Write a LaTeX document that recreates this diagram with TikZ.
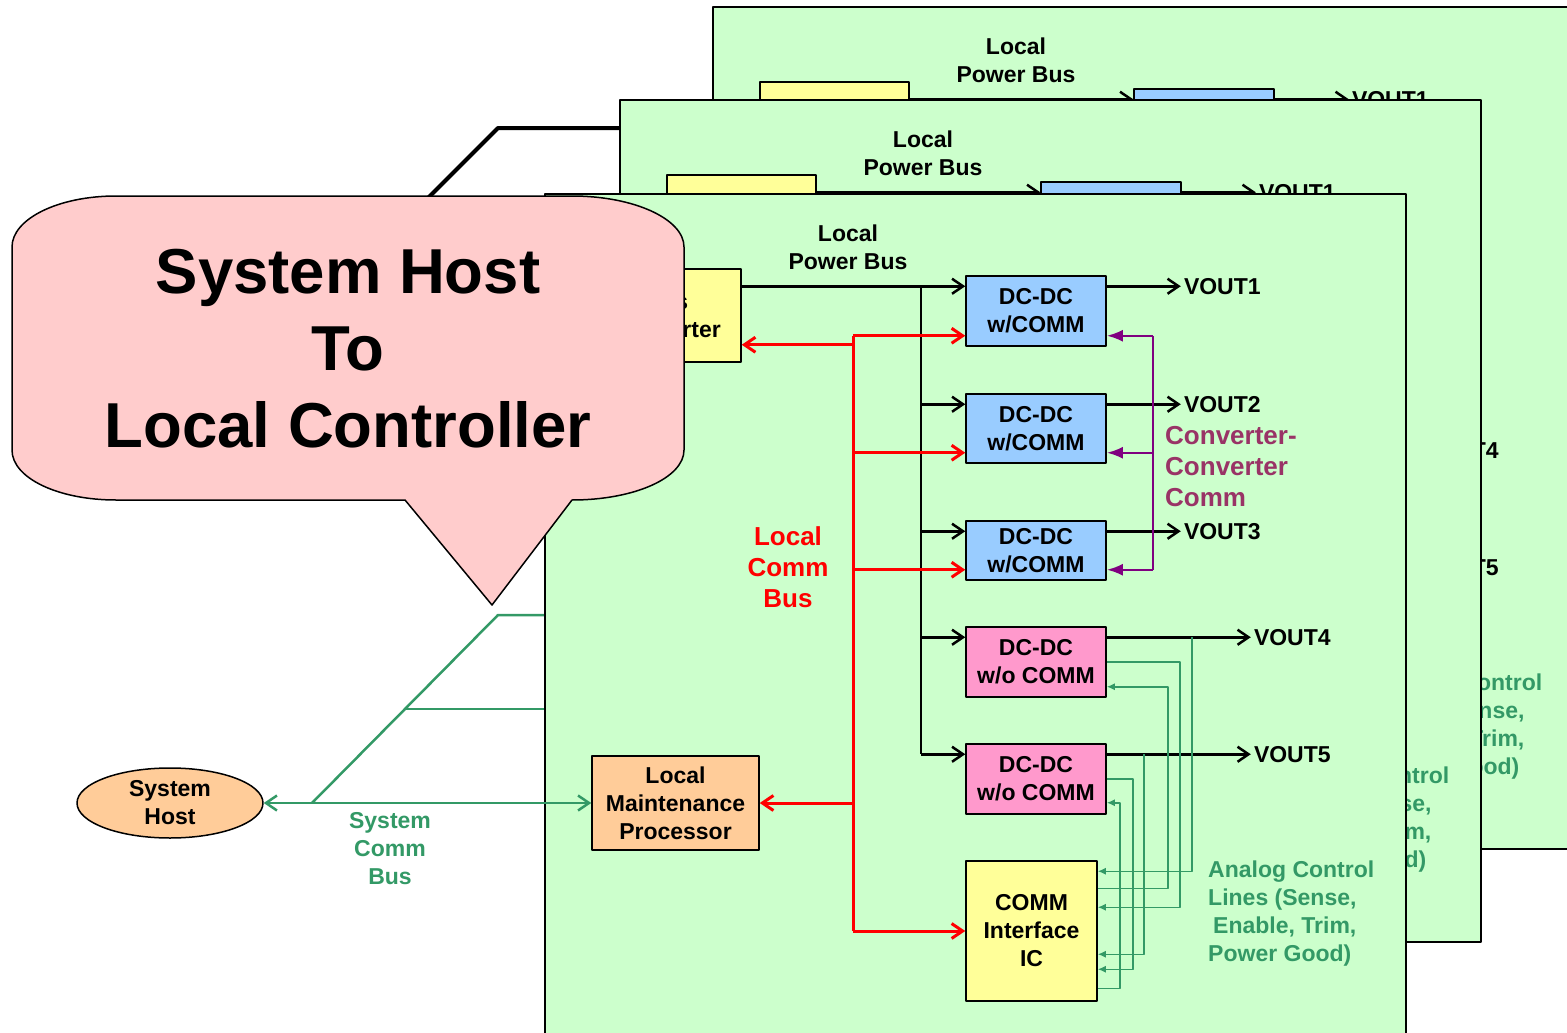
\documentclass[tikz,border=0pt]{standalone}
\usepackage{fontspec}
\setmainfont{Liberation Sans}
\usetikzlibrary{arrows.meta,shapes.geometric}

\definecolor{boardgreen}{HTML}{CCFFCC}
\definecolor{dcblue}{HTML}{99CCFF}
\definecolor{dcpink}{HTML}{FF99CC}
\definecolor{convyellow}{HTML}{FFFF99}
\definecolor{lmporange}{HTML}{FFCC99}
\definecolor{calloutpink}{HTML}{FFCCCC}
\definecolor{c2cline}{HTML}{800080}
\definecolor{c2ctext}{HTML}{993366}
\definecolor{sysgreen}{HTML}{339966}

\newcommand\boxfont{\bfseries\fontsize{23}{28}\selectfont}
\newcommand\midfont{\bfseries\fontsize{26}{31}\selectfont}
\newcommand\hugefont{\bfseries\fontsize{63.5}{77}\selectfont}

% one power card; drawn three times
\newcommand\drawboard{%
  \node[board] (brd) at (975.5,615) {};
  \node[box,fill=convyellow,minimum width=149,minimum height=93] (bc) at (666.5,315.5) {Bus\\Converter};
  \node[box,fill=dcblue,minimum width=140,minimum height=70] (dc1) at (1036,311) {DC-DC\\w/COMM};
  \node[box,fill=dcblue,minimum width=140,minimum height=69] (dc2) at (1036,428.5) {DC-DC\\w/COMM};
  \node[box,fill=dcblue,minimum width=140,minimum height=59] (dc3) at (1036,550.5) {DC-DC\\w/COMM};
  \node[box,fill=dcpink,minimum width=140,minimum height=70] (dc4) at (1036,662) {DC-DC\\w/o COMM};
  \node[box,fill=dcpink,minimum width=140,minimum height=70] (dc5) at (1036,779) {DC-DC\\w/o COMM};
  \node[box,fill=convyellow,minimum width=131,minimum height=140] (ic) at (1031.5,931) {COMM\\Interface\\IC};
  \node[box,fill=lmporange,minimum width=167,minimum height=94] (lmp) at (675.5,803) {Local\\Maintenance\\Processor};
  \node[label,align=center] (pbl) at (848,247) {Local\\Power Bus};
  \node[label,font=\midfont,text=red,align=center] (lcb) at (788,567) {Local\\Comm\\Bus};
  \node[label,font=\midfont,text=c2ctext,anchor=west,align=left] (ccc) at (1165,467) {Converter-\\Converter\\Comm};
  \node[label,text=sysgreen,anchor=west,align=left] (acl) at (1208,914) {Analog Control\\Lines (Sense,\\\hspace*{5pt}Enable, Trim,\\Power Good)};
  \foreach \d in {1,...,5} {
    \coordinate (in\d) at ([yshift=-11pt]dc\d.north west);
    \coordinate (out\d) at ([yshift=-11pt]dc\d.north east);
  }
  \foreach \d in {1,2,3} {
    \coordinate (cin\d) at ([yshift=11pt]dc\d.south west);
    \coordinate (pin\d) at ([yshift=11pt]dc\d.south east);
  }
  \coordinate (ptop) at (921,288);
  \coordinate (ctop) at (853,335);
  \coordinate (ktop) at (1153,335);
  \coordinate (bcin) at ([yshift=18pt]bc.south east);
  \draw[pwr,-opn] (bc.east |- in1) -- (in1);
  \draw[pwr] (ptop |- in1) -- (ptop |- in5);
  \foreach \d in {2,...,5} \draw[pwr,-opn] (ptop |- in\d) -- (in\d);
  \foreach \d/\l in {1/74,2/74,3/74,4/144,5/144}
    \draw[pwr,-opn] (out\d) -- ++(\l,0) node[label,anchor=west,inner sep=2pt] (v\d) {VOUT\d};
  \draw[comm] (ctop |- cin1) -- (ctop |- ic.west);
  \foreach \d in {1,2,3} \draw[comm,-opn] (ctop |- cin\d) -- (cin\d);
  \draw[comm,-opn] (ctop |- bcin) -- (bcin);
  \draw[comm,-opn] (ctop |- lmp.east) -- (lmp.east);
  \draw[comm,-opn] (ctop |- ic.west) -- (ic.west);
  \draw[c2c] (ktop |- pin1) -- (ktop |- pin3);
  \foreach \d in {1,2,3} \draw[c2c,-fil] (ktop |- pin\d) -- (pin\d);
  \draw[ana,-sml] ([xshift=85pt]out4) |- ([yshift=-11pt]ic.north east);
  \draw[ana,-sml] (dc4.east) -- ++(73,0) |- ([yshift=-47pt]ic.north east);
  \draw[ana,-sml] ([yshift=-28pt]ic.north east) -- ++(70,0) |- ([yshift=11pt]dc4.south east);
  \draw[ana,-sml] ([xshift=37pt]out5) |- ([yshift=-94pt]ic.north east);
  \draw[ana,-sml] (dc5.east) -- ++(26,0) |- ([yshift=-109pt]ic.north east);
  \draw[ana,-sml] ([yshift=-128pt]ic.north east) -- ++(22,0) |- ([yshift=12pt]dc5.south east);
}

\begin{document}
\begin{tikzpicture}[x=1pt,y=-1pt,line join=round,
    opn/.tip={Straight Barb[length=11pt,width=15pt]},
    fil/.tip={Latex[length=16pt,width=12pt]},
    sml/.tip={Latex[length=8pt,width=7pt]},
    board/.style={draw,line width=2.5pt,fill=boardgreen,inner sep=0pt,minimum width=861,minimum height=842},
    box/.style={draw,line width=1.5pt,inner sep=0pt,align=center,font=\boxfont},
    label/.style={inner sep=0pt,font=\boxfont},
    pwr/.style={line width=2.5pt},
    comm/.style={line width=3pt,red},
    c2c/.style={line width=2.5pt,c2cline},
    ana/.style={line width=1.5pt,sysgreen},
    sys/.style={line width=2.5pt,sysgreen},
    hostline/.style={line width=4pt}]
  \useasboundingbox (0,0) rectangle (1567,1033);
  \clip (0,0) rectangle (1567,1033);
  \begin{scope}[shift={(168,-187)},name prefix=bk-]
    \drawboard
  \end{scope}
  \begin{scope}[shift={(75,-94)},name prefix=md-]
    \drawboard
  \end{scope}
  \coordinate (hk) at (498,128);
  \draw[hostline] (420,206) -- (hk) -- (hk -| md-brd.west);
  \begin{scope}[name prefix=fr-]
    \drawboard
  \end{scope}
  % system comm bus
  \node[ellipse,draw,line width=1.5pt,fill=lmporange,inner sep=0pt,minimum width=186,minimum height=70,
    align=center,font=\boxfont] (host) at (170,803) {System\\Host};
  \coordinate (sb0) at (312,803);
  \coordinate (sb1) at (405,709);
  \coordinate (sb2) at (498,615);
  \draw[sys,opn-opn] (host.east) -- (fr-lmp.west);
  \draw[sys] (sb0) -- (sb1) -- (sb2) -- (sb2 -| fr-brd.west);
  \draw[sys] (sb1) -- (sb1 -| fr-brd.west);
  \node[label,text=sysgreen,align=center] (scb) at (390,849) {System\\Comm\\Bus};
  % callout
  \draw[fill=calloutpink,line width=1.5pt] (116,196) -- (572,196)
    .. controls (634,196) and (684,219) .. (684,247) -- (684,450)
    .. controls (684,478) and (634,500) .. (572,500) -- (492,605) -- (405,500) -- (116,500)
    .. controls (58,500) and (12,478) .. (12,450) -- (12,247)
    .. controls (12,219) and (58,196) .. (116,196) -- cycle;
  \node[label,font=\hugefont,align=center] (title) at (348,349) {System Host\\To\\Local Controller};
\end{tikzpicture}
\end{document}
